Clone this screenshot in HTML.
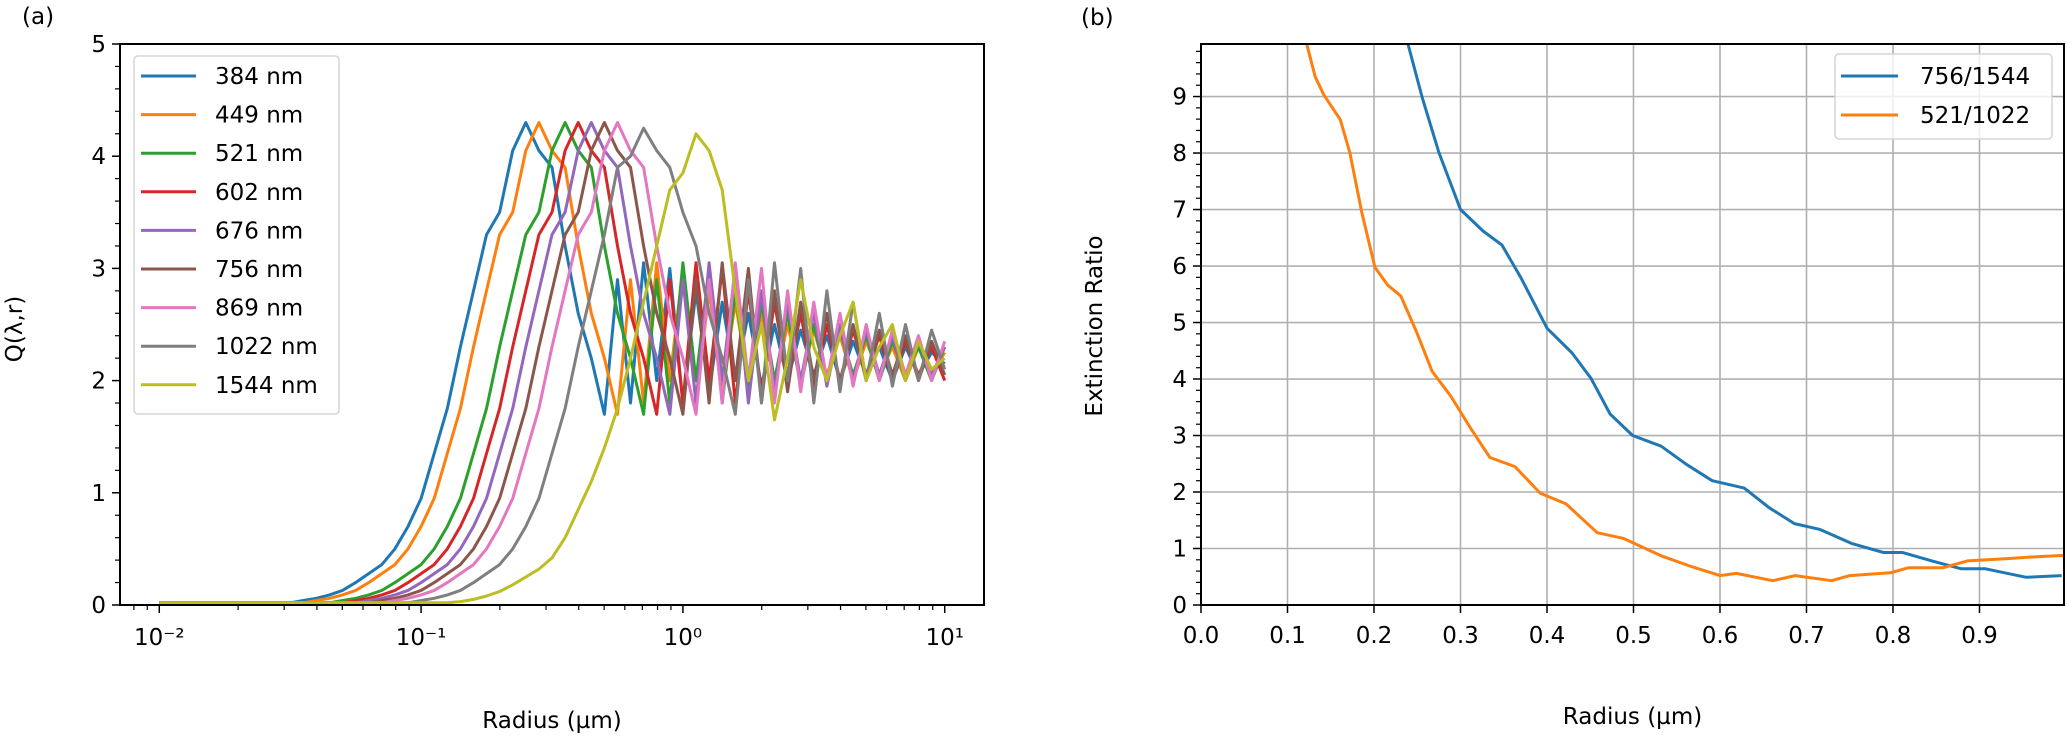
<!DOCTYPE html>
<html><head><meta charset="utf-8"><style>
html,body{margin:0;padding:0;background:#fff;}
svg{display:block;font-family:"DejaVu Sans","Liberation Sans",sans-serif;}
</style></head><body>
<svg id="fig" width="2067" height="741" viewBox="0 0 2067 741" xmlns="http://www.w3.org/2000/svg">
<text x="22" y="24" font-size="23">(a)</text>
<text x="1081" y="25" font-size="23">(b)</text>
<g id="pa"></g>
<g id="pb"></g>
</svg>
<script>
// ---------- Panel (a) data ----------
const gridLogR = []; for (let j = 0; j <= 60; j++) gridLogR.push(-2 + 0.05 * j);
const seriesNames = ["384 nm","449 nm","521 nm","602 nm","676 nm","756 nm","869 nm","1022 nm","1544 nm"];
const seriesColors = ["#1f77b4","#ff7f0e","#2ca02c","#d62728","#9467bd","#8c564b","#e377c2","#7f7f7f","#bcbd22"];
const q384 = [0.02,0.02,0.02,0.02,0.02,0.02,0.02,0.02,0.02,0.02,0.02,0.04,0.06,0.09,0.13,0.2,0.28,0.36,0.5,0.7,0.95,1.35,1.75,2.3,2.8,3.3,3.5,4.05,4.3,4.05,3.9,3.2,2.6,2.2,1.7,2.9,1.8,3.05,2.0,3.0,1.8,2.8,1.9,2.7,2.0,2.6,1.95,2.5,2.0,2.45,2.05,2.4,2.0,2.35,2.05,2.3,2.0,2.3,2.05,2.25,2.15];
const q449 = [0.02,0.02,0.02,0.02,0.02,0.02,0.02,0.02,0.02,0.02,0.02,0.02,0.04,0.06,0.09,0.13,0.2,0.28,0.36,0.5,0.7,0.95,1.35,1.75,2.3,2.8,3.3,3.5,4.05,4.3,4.05,3.9,3.2,2.6,2.2,1.7,2.9,1.8,3.05,2.0,3.0,1.8,2.8,1.9,2.7,2.0,2.6,1.95,2.5,2.0,2.45,2.05,2.4,2.0,2.35,2.05,2.3,2.0,2.3,2.05,2.25];
const q521 = [0.02,0.02,0.02,0.02,0.02,0.02,0.02,0.02,0.02,0.02,0.02,0.02,0.02,0.02,0.04,0.06,0.09,0.13,0.2,0.28,0.36,0.5,0.7,0.95,1.35,1.75,2.3,2.8,3.3,3.5,4.05,4.3,4.05,3.9,3.2,2.6,2.2,1.7,2.9,1.8,3.05,2.0,3.0,1.8,2.8,1.9,2.7,2.0,2.6,1.95,2.5,2.0,2.45,2.05,2.4,2.0,2.35,2.05,2.3,2.0,2.3];
const q602 = [0.02,0.02,0.02,0.02,0.02,0.02,0.02,0.02,0.02,0.02,0.02,0.02,0.02,0.02,0.02,0.04,0.06,0.09,0.13,0.2,0.28,0.36,0.5,0.7,0.95,1.35,1.75,2.3,2.8,3.3,3.5,4.05,4.3,4.05,3.9,3.2,2.6,2.2,1.7,2.9,1.8,3.05,2.0,3.0,1.8,2.8,1.9,2.7,2.0,2.6,1.95,2.5,2.0,2.45,2.05,2.4,2.0,2.35,2.05,2.3,2.0];
const q676 = [0.02,0.02,0.02,0.02,0.02,0.02,0.02,0.02,0.02,0.02,0.02,0.02,0.02,0.02,0.02,0.02,0.04,0.06,0.09,0.13,0.2,0.28,0.36,0.5,0.7,0.95,1.35,1.75,2.3,2.8,3.3,3.5,4.05,4.3,4.05,3.9,3.2,2.6,2.2,1.7,2.9,1.8,3.05,2.0,3.0,1.8,2.8,1.9,2.7,2.0,2.6,1.95,2.5,2.0,2.45,2.05,2.4,2.0,2.35,2.05,2.3];
const q756 = [0.02,0.02,0.02,0.02,0.02,0.02,0.02,0.02,0.02,0.02,0.02,0.02,0.02,0.02,0.02,0.02,0.02,0.04,0.06,0.09,0.13,0.2,0.28,0.36,0.5,0.7,0.95,1.35,1.75,2.3,2.8,3.3,3.5,4.05,4.3,4.05,3.9,3.2,2.6,2.2,1.7,2.9,1.8,3.05,2.0,3.0,1.8,2.8,1.9,2.7,2.0,2.6,1.95,2.5,2.0,2.45,2.05,2.4,2.0,2.35,2.05];
const q869 = [0.02,0.02,0.02,0.02,0.02,0.02,0.02,0.02,0.02,0.02,0.02,0.02,0.02,0.02,0.02,0.02,0.02,0.02,0.04,0.06,0.09,0.13,0.2,0.28,0.36,0.5,0.7,0.95,1.35,1.75,2.3,2.8,3.3,3.5,4.05,4.3,4.05,3.9,3.2,2.6,2.2,1.7,2.9,1.8,3.05,2.0,3.0,1.8,2.8,1.9,2.7,2.0,2.6,1.95,2.5,2.0,2.45,2.05,2.4,2.0,2.35];
const q1022 = [0.02,0.02,0.02,0.02,0.02,0.02,0.02,0.02,0.02,0.02,0.02,0.02,0.02,0.02,0.02,0.02,0.02,0.02,0.02,0.02,0.04,0.06,0.09,0.13,0.2,0.28,0.36,0.5,0.7,0.95,1.35,1.75,2.3,2.8,3.3,3.9,4.0,4.25,4.05,3.9,3.5,3.2,2.6,2.2,1.7,2.9,1.8,3.05,2.0,3.0,1.8,2.8,1.9,2.7,2.0,2.6,1.95,2.5,2.0,2.45,2.1];
const q1544 = [0.02,0.02,0.02,0.02,0.02,0.02,0.02,0.02,0.02,0.02,0.02,0.02,0.02,0.02,0.02,0.02,0.02,0.02,0.02,0.02,0.02,0.02,0.02,0.03,0.05,0.08,0.12,0.18,0.25,0.32,0.42,0.6,0.85,1.1,1.4,1.75,2.2,2.7,3.2,3.7,3.85,4.2,4.05,3.7,2.8,2.0,2.5,1.65,2.2,2.9,2.3,2.0,2.4,2.7,2.0,2.3,2.5,2.0,2.35,2.1,2.2];
const seriesValues = [q384,q449,q521,q602,q676,q756,q869,q1022,q1544];
const aYTicks = [0,1,2,3,4,5];
const aXTickExp = [-2,-1,0,1];
const aXTickLabels = ["10\u207B\u00B2","10\u207B\u00B9","10\u2070","10\u00B9"];

// ---------- Panel (b) data ----------
const ratioNames = ["756/1544","521/1022"];
const ratioColors = ["#1f77b4","#ff7f0e"];
const bBlueR = [0.238,0.256,0.275,0.300,0.326,0.348,0.370,0.400,0.429,0.451,0.473,0.499,0.532,0.561,0.591,0.628,0.657,0.686,0.715,0.752,0.789,0.811,0.845,0.879,0.907,0.954,0.995];
const bBlueV = [10.0,8.97,8.01,7.0,6.62,6.37,5.79,4.9,4.46,4.01,3.38,3.0,2.81,2.49,2.2,2.07,1.72,1.44,1.34,1.09,0.93,0.93,0.78,0.64,0.64,0.49,0.52];
const bOrangeR = [0.121,0.132,0.142,0.161,0.172,0.186,0.201,0.216,0.231,0.249,0.267,0.289,0.312,0.334,0.363,0.392,0.422,0.458,0.488,0.532,0.565,0.600,0.619,0.661,0.687,0.729,0.750,0.797,0.818,0.858,0.886,0.930,0.960,0.998];
const bOrangeV = [10.0,9.35,9.03,8.59,8.01,6.94,5.98,5.66,5.47,4.84,4.14,3.69,3.12,2.61,2.45,1.98,1.79,1.28,1.18,0.87,0.69,0.52,0.56,0.43,0.52,0.43,0.52,0.57,0.66,0.66,0.78,0.82,0.85,0.88];
const bXTicks = [0,0.1,0.2,0.3,0.4,0.5,0.6,0.7,0.8,0.9];
const bXTickLabels = ["0.0","0.1","0.2","0.3","0.4","0.5","0.6","0.7","0.8","0.9"];
const bYTicks = [0,1,2,3,4,5,6,7,8,9];

const NS = "http://www.w3.org/2000/svg";
function mk(parent, tag, attrs, text) {
  const e = document.createElementNS(NS, tag);
  for (const k in attrs) e.setAttribute(k, attrs[k]);
  if (text !== undefined) e.textContent = text;
  parent.appendChild(e);
  return e;
}
const FS = 23;

// ---------- Panel (a) ----------
(function(){
  const g = document.getElementById('pa');
  const L = 120, R = 984, T = 44, B = 605;
  const xmin = -2.15, xmax = 1.15, ymin = 0, ymax = 5;
  const xs = lr => L + (lr - xmin) / (xmax - xmin) * (R - L);
  const ys = v => B - (v - ymin) / (ymax - ymin) * (B - T);
  const clip = mk(g, 'clipPath', {id:'clipA'});
  mk(clip, 'rect', {x:L, y:T, width:R-L, height:B-T});
  const lines = mk(g, 'g', {'clip-path':'url(#clipA)'});
  
  
  seriesValues.forEach((vals, k) => {
    const d = vals.map((v, j) => (j ? 'L' : 'M') + xs(gridLogR[j]).toFixed(1) + ',' + ys(v).toFixed(1)).join(' ');
    const p = mk(lines, 'path', {d:d, fill:'none', stroke:seriesColors[k], 'stroke-width':3, 'stroke-linejoin':'round'});
    
    
  });
  // y ticks
  aYTicks.forEach(v => {
    mk(g, 'line', {x1:L-8, x2:L, y1:ys(v), y2:ys(v), stroke:'#000', 'stroke-width':1.5});
    const t = mk(g, 'text', {x:L-14, y:ys(v)+8, 'font-size':FS, 'text-anchor':'end'}, String(v));
    
    
  });
  for (let v = 0; v < 5; v += 0.2) {
    if (Math.abs(v - Math.round(v)) < 1e-6) continue;
    mk(g, 'line', {x1:L-5, x2:L, y1:ys(v), y2:ys(v), stroke:'#000', 'stroke-width':1.2});
  }
  // x ticks
  aXTickExp.forEach((e, i) => {
    mk(g, 'line', {x1:xs(e), x2:xs(e), y1:B, y2:B+8, stroke:'#000', 'stroke-width':1.5});
    const t = mk(g, 'text', {x:xs(e), y:B+40, 'font-size':FS, 'text-anchor':'middle'}, aXTickLabels[i]);
    
    
  });
  for (let e = -3; e <= 1; e++) for (let m = 2; m <= 9; m++) {
    const lr = e + Math.log10(m);
    if (lr < xmin || lr > xmax) continue;
    mk(g, 'line', {x1:xs(lr), x2:xs(lr), y1:B, y2:B+5, stroke:'#000', 'stroke-width':1.2});
  }
  const frame = mk(g, 'rect', {x:L, y:T, width:R-L, height:B-T, fill:'none', stroke:'#000', 'stroke-width':2});
  
  
  const xl = mk(g, 'text', {x:(L+R)/2, y:728, 'font-size':FS, 'text-anchor':'middle'}, 'Radius (\u00B5m)');
  
  
  const yl = mk(g, 'text', {x:0, y:0, 'font-size':FS, 'text-anchor':'middle', transform:'translate(22,329) rotate(-90)'}, 'Q(\u03BB,r)');
  
  
  // legend
  const lg = mk(g, 'g', {});
  
  
  mk(lg, 'rect', {x:134, y:56, width:205, height:358, rx:4, fill:'#fff', 'fill-opacity':0.8, stroke:'#d5d5d5', 'stroke-width':1.5});
  seriesNames.forEach((n, k) => {
    const y = 76 + k * 38.6;
    const e = mk(lg, 'g', {});
    
    
    mk(e, 'line', {x1:141, x2:196, y1:y, y2:y, stroke:seriesColors[k], 'stroke-width':3});
    mk(e, 'text', {x:215, y:y+8, 'font-size':FS}, n);
  });
})();

// ---------- Panel (b) ----------
(function(){
  const g = document.getElementById('pb');
  const L = 1201, R = 2064, T = 44, B = 605;
  const xmin = 0, xmax = 0.9977, ymin = 0, ymax = 9.93;
  const xs = v => L + (v - xmin) / (xmax - xmin) * (R - L);
  const ys = v => B - (v - ymin) / (ymax - ymin) * (B - T);
  // grid
  bXTicks.forEach(v => mk(g, 'line', {x1:xs(v), x2:xs(v), y1:T, y2:B, stroke:'#b0b0b0', 'stroke-width':1.6}));
  bYTicks.forEach(v => mk(g, 'line', {x1:L, x2:R, y1:ys(v), y2:ys(v), stroke:'#b0b0b0', 'stroke-width':1.6}));
  const clip = mk(g, 'clipPath', {id:'clipB'});
  mk(clip, 'rect', {x:L, y:T, width:R-L, height:B-T});
  const lines = mk(g, 'g', {'clip-path':'url(#clipB)'});
  
  
  [[bBlueR,bBlueV],[bOrangeR,bOrangeV]].forEach((s, k) => {
    const d = s[0].map((r, i) => (i ? 'L' : 'M') + xs(r).toFixed(1) + ',' + ys(s[1][i]).toFixed(1)).join(' ');
    const p = mk(lines, 'path', {d:d, fill:'none', stroke:ratioColors[k], 'stroke-width':3, 'stroke-linejoin':'round'});
    
    
  });
  bYTicks.forEach(v => {
    mk(g, 'line', {x1:L-8, x2:L, y1:ys(v), y2:ys(v), stroke:'#000', 'stroke-width':1.5});
    const t = mk(g, 'text', {x:L-14, y:ys(v)+8, 'font-size':FS, 'text-anchor':'end'}, String(v));
    
    
  });
  for (let v = 0.2; v < ymax; v += 0.2) {
    if (Math.abs(v - Math.round(v)) < 1e-6) continue;
    mk(g, 'line', {x1:L-5, x2:L, y1:ys(v), y2:ys(v), stroke:'#000', 'stroke-width':1.2});
  }
  bXTicks.forEach((v, i) => {
    mk(g, 'line', {x1:xs(v), x2:xs(v), y1:B, y2:B+8, stroke:'#000', 'stroke-width':1.5});
    const t = mk(g, 'text', {x:xs(v), y:B+38, 'font-size':FS, 'text-anchor':'middle'}, bXTickLabels[i]);
    
    
  });
  const frame = mk(g, 'rect', {x:L, y:T, width:R-L, height:B-T, fill:'none', stroke:'#000', 'stroke-width':2});
  
  
  const xl = mk(g, 'text', {x:(L+R)/2, y:724, 'font-size':FS, 'text-anchor':'middle'}, 'Radius (\u00B5m)');
  
  
  const yl = mk(g, 'text', {x:0, y:0, 'font-size':FS, 'text-anchor':'middle', transform:'translate(1102,326) rotate(-90)'}, 'Extinction Ratio');
  
  
  const lg = mk(g, 'g', {});
  
  
  mk(lg, 'rect', {x:1835, y:54, width:217, height:85, rx:4, fill:'#fff', 'fill-opacity':0.8, stroke:'#d5d5d5', 'stroke-width':1.5});
  ratioNames.forEach((n, k) => {
    const y = 76 + k * 39;
    const e = mk(lg, 'g', {});
    
    
    mk(e, 'line', {x1:1841, x2:1898, y1:y, y2:y, stroke:ratioColors[k], 'stroke-width':3});
    mk(e, 'text', {x:1920, y:y+8, 'font-size':FS}, n);
  });
})();
</script>
</body></html>
